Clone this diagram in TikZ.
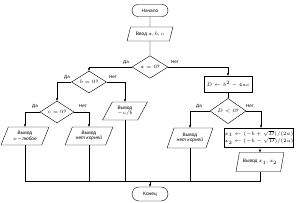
\documentclass[tikz,border=0pt]{standalone}
\usepackage{fontspec}
\setmainfont{Liberation Sans}
\usetikzlibrary{shapes.geometric,arrows.meta}
\begin{document}
\begin{tikzpicture}[x=1pt,y=-1pt, line width=0.4pt,
 every node/.style={font=\fontsize{4.8}{5.6}\selectfont, inner sep=0pt, align=center},
 term/.style={draw, rounded corners=6pt, minimum width=36pt, minimum height=12pt},
 io/.style={draw, trapezium, trapezium left angle=60, trapezium right angle=120, trapezium stretches=true},
 cond/.style={draw, diamond},
 proc/.style={draw, rectangle},
 arr/.style={-{Stealth[length=3pt,width=2.4pt]}},
 lbl/.style={font=\fontsize{4.5}{5}\selectfont}]
\useasboundingbox (0,0) rectangle (300,203);
% nodes
\node[term] (start) at (150,10.5) {Начало};
\node[io, minimum width=46pt, minimum height=14pt] (in) at (150,34) {Ввод $a$, $b$, $c$};
\node[cond, minimum width=36pt, minimum height=20pt] (dA) at (150,67) {$a=0$?};
\node[cond, minimum width=35pt, minimum height=16pt] (dB) at (89,82) {$b=0$?};
\node[cond, minimum width=34pt, minimum height=18pt] (dC) at (57,112) {$c=0$?};
\node[io, minimum width=48pt, minimum height=18pt] (o1) at (25,136) {Вывод\\\textit{$x$ -- любое}};
\node[io, minimum width=48pt, minimum height=18pt] (o2) at (89,136) {Вывод\\\textit{нет корней}};
\node[io, minimum width=45pt, minimum height=18pt] (o3) at (125,111) {Вывод\\$-c/b$};
\node[proc, minimum width=48pt, minimum height=16pt] (bD) at (228,84) {$D \leftarrow b^2-4ac$};
\node[cond, minimum width=36pt, minimum height=20pt] (dD) at (228,111) {$D<0$?};
\node[io, minimum width=46pt, minimum height=20pt] (o4) at (190,138) {Вывод\\\textit{нет корней}};
\node[proc, minimum width=66pt, minimum height=19pt, font=\fontsize{4.2}{5.2}\selectfont] (bX) at (259,137.5) {$x_1 \leftarrow (-b+\sqrt{D})/(2a)$\\$x_2 \leftarrow (-b-\sqrt{D})/(2a)$};
\node[io, minimum width=48pt, minimum height=19pt] (o5) at (260,162) {Вывод $x_1$, $x_2$};
\node[term, minimum height=14pt, rounded corners=7pt] (end) at (150,194) {Конец};
\coordinate (bus) at (150,181);
% labels
\node[lbl] (l1) at (126,62) {Да};
\node[lbl] (l2) at (175,62) {Нет};
\node[lbl] (l3) at (67,77) {Да};
\node[lbl] (l4) at (113,77) {Нет};
\node[lbl] (l5) at (35,106) {Да};
\node[lbl] (l6) at (83,106) {Нет};
\node[lbl] (l7) at (199,106) {Да};
\node[lbl] (l8) at (250,106) {Нет};
% connectors
\draw (start) -- (in);
\draw (in) -- (dA);
\draw[arr] (dA.west) -| (dB.north);
\draw[arr] (dA.east) -| (bD.north);
\draw[arr] (dB.west) -| (dC.north);
\draw[arr] (dB.east) -| (o3.north);
\draw[arr] (dC.west) -| (o1.north);
\draw[arr] (dC.east) -| (o2.north);
\draw (bD) -- (dD);
\draw[arr] (dD.west) -| (o4.north);
\draw[arr] (dD.east) -| ([xshift=2pt]bX.north);
\draw[arr] ([xshift=1pt]bX.south) -- (o5.north);
\draw (o1.south) |- (o5.south |- bus) -- (o5.south);
\draw (o2.south) -- (o2.south |- bus);
\draw (o3.south) -- (o3.south |- bus);
\draw (o4.south) -- (o4.south |- bus);
\draw[arr] (bus) -- (end);
\end{tikzpicture}
\end{document}
